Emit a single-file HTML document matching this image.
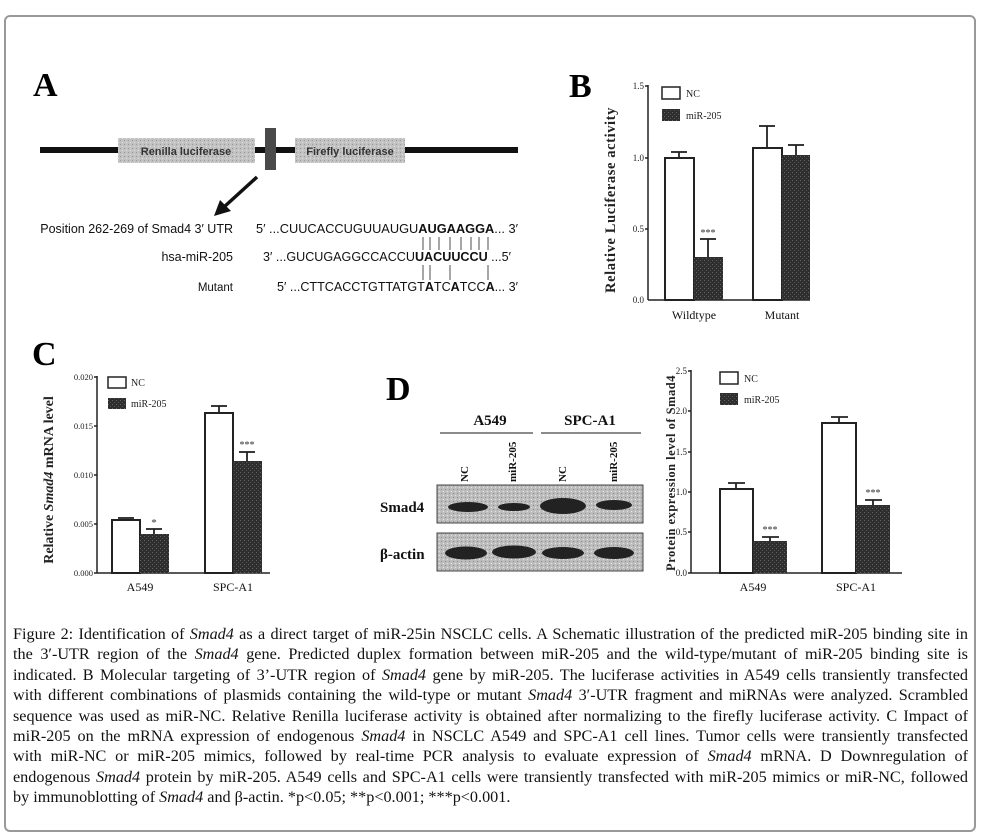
<!DOCTYPE html>
<html><head><meta charset="utf-8"><style>
html,body{margin:0;padding:0;background:#fff;width:982px;height:837px;overflow:hidden;position:relative}
.frame{position:absolute;left:4px;top:15px;width:972px;height:817px;border:2px solid #999;border-radius:6px;box-sizing:border-box}
svg{position:absolute;left:0;top:0}
.cap{position:absolute;left:13px;top:624px;width:955px;font-family:"Liberation Serif",serif;font-size:16.2px;color:#111}
.cap div{height:20.4px;line-height:20.4px;text-align:justify;text-align-last:justify;white-space:nowrap}
.cap div.last{text-align-last:left}
.cap i{font-style:italic}
</style></head><body>
<div class="frame"></div>
<svg width="982" height="837" viewBox="0 0 982 837" font-family="Liberation Serif, serif">
<defs>
<pattern id="dk" width="4" height="4" patternUnits="userSpaceOnUse"><rect width="4" height="4" fill="#2e2e2e"/><rect x="0" y="0" width="1" height="1" fill="#666"/><rect x="2" y="2" width="1" height="1" fill="#555"/></pattern>
<pattern id="lt" width="4" height="4" patternUnits="userSpaceOnUse"><rect width="4" height="4" fill="#c2c2c2"/><rect x="0" y="0" width="1" height="1" fill="#999"/><rect x="2" y="2" width="1" height="1" fill="#e0e0e0"/></pattern>
<pattern id="bl" width="4" height="4" patternUnits="userSpaceOnUse"><rect width="4" height="4" fill="#bdbdbd"/><rect x="1" y="1" width="1" height="1" fill="#8a8a8a"/><rect x="3" y="3" width="1" height="1" fill="#e4e4e4"/></pattern>
</defs>
<!-- Panel A -->
<text x="33" y="96" font-size="34" font-weight="bold">A</text>
<line x1="40" y1="150" x2="518" y2="150" stroke="#111" stroke-width="6"/>
<rect x="118" y="138" width="137" height="25" fill="url(#lt)"/>
<rect x="295" y="138" width="110" height="25" fill="url(#lt)"/>
<rect x="265" y="128" width="11" height="42" fill="#4a4a4a"/>
<g font-family="Liberation Sans, sans-serif" font-size="11" font-weight="bold" fill="#333" text-anchor="middle">
<text x="186" y="155">Renilla luciferase</text><text x="350" y="155">Firefly luciferase</text></g>
<line x1="257" y1="177" x2="224" y2="207" stroke="#111" stroke-width="3.5"/>
<polygon points="214,216 220,200 231,211" fill="#111"/>
<g font-family="Liberation Sans, sans-serif" font-size="12.5" fill="#111">
<text x="233" y="233" text-anchor="end">Position 262-269 of Smad4 3′ UTR</text>
<text x="233" y="261" text-anchor="end">hsa-miR-205</text>
<text x="233" y="291" text-anchor="end" font-size="11.5">Mutant</text>
<text x="256" y="233" textLength="262" lengthAdjust="spacingAndGlyphs">5′ ...CUUCACCUGUUAUGU<tspan font-weight="bold">AUGAAGGA</tspan>... 3′</text>
<text x="263" y="261" textLength="248" lengthAdjust="spacingAndGlyphs">3′ ...GUCUGAGGCCACCU<tspan font-weight="bold">UACUUCCU</tspan> ...5′</text>
<text x="277" y="291" textLength="241" lengthAdjust="spacingAndGlyphs">5′ ...CTTCACCTGTTATGT<tspan font-weight="bold">A</tspan>TC<tspan font-weight="bold">A</tspan>TCC<tspan font-weight="bold">A</tspan>... 3′</text>
</g>
<g stroke="#222" stroke-width="0.8">
<line x1="423" y1="237" x2="423" y2="250"/><line x1="430" y1="237" x2="430" y2="250"/><line x1="439" y1="237" x2="439" y2="250"/><line x1="450" y1="237" x2="450" y2="250"/><line x1="461" y1="237" x2="461" y2="250"/><line x1="471" y1="237" x2="471" y2="250"/><line x1="479" y1="237" x2="479" y2="250"/><line x1="488" y1="237" x2="488" y2="250"/>
<line x1="423" y1="265" x2="423" y2="280"/><line x1="430" y1="265" x2="430" y2="280"/><line x1="450" y1="265" x2="450" y2="280"/><line x1="488" y1="265" x2="488" y2="280"/>
</g>
<!-- Panel B -->
<text x="569" y="97" font-size="34" font-weight="bold">B</text>
<g stroke="#222" stroke-width="1.5" fill="none">
<line x1="648" y1="85" x2="648" y2="300"/><line x1="648" y1="300" x2="810" y2="300"/>
<line x1="645" y1="86" x2="648" y2="86"/><line x1="645" y1="158" x2="648" y2="158"/><line x1="645" y1="229" x2="648" y2="229"/>
</g>
<g font-size="9" text-anchor="end" fill="#222"><text x="644" y="89">1.5</text><text x="644" y="161">1.0</text><text x="644" y="232">0.5</text><text x="644" y="303">0.0</text></g>
<rect x="665" y="158" width="29" height="142" fill="#fff" stroke="#222" stroke-width="2"/>
<rect x="694" y="257" width="29" height="43" fill="url(#dk)"/>
<rect x="753" y="148" width="29" height="152" fill="#fff" stroke="#222" stroke-width="2"/>
<rect x="782" y="155" width="28" height="145" fill="url(#dk)"/>
<g stroke="#222" stroke-width="1.8">
<line x1="679" y1="158" x2="679" y2="152"/><line x1="671" y1="152" x2="687" y2="152"/>
<line x1="708" y1="257" x2="708" y2="239"/><line x1="700" y1="239" x2="716" y2="239"/>
<line x1="767" y1="148" x2="767" y2="126"/><line x1="759" y1="126" x2="775" y2="126"/>
<line x1="796" y1="155" x2="796" y2="145"/><line x1="788" y1="145" x2="804" y2="145"/>
</g>
<text x="708" y="236" font-size="10" text-anchor="middle" fill="#333">***</text>
<rect x="662" y="87" width="18" height="12" fill="#fff" stroke="#222" stroke-width="1.5"/>
<rect x="662" y="109" width="18" height="12" fill="url(#dk)"/>
<g font-size="10" fill="#222"><text x="686" y="97">NC</text><text x="686" y="119">miR-205</text></g>
<g font-size="12" text-anchor="middle" fill="#111"><text x="694" y="319">Wildtype</text><text x="782" y="319">Mutant</text></g>
<text transform="translate(615,200) rotate(-90)" font-size="14.5" font-weight="bold" text-anchor="middle" fill="#222" letter-spacing="0.6">Relative  Luciferase activity</text>
<!-- Panel C -->
<text x="32" y="365" font-size="34" font-weight="bold">C</text>
<g stroke="#222" stroke-width="1.5">
<line x1="97" y1="376" x2="97" y2="573"/><line x1="97" y1="573" x2="270" y2="573"/>
<line x1="94" y1="377" x2="97" y2="377"/><line x1="94" y1="426" x2="97" y2="426"/><line x1="94" y1="475" x2="97" y2="475"/><line x1="94" y1="524" x2="97" y2="524"/><line x1="94" y1="573" x2="97" y2="573"/>
</g>
<g font-size="8.5" text-anchor="end" fill="#222"><text x="93" y="380">0.020</text><text x="93" y="429">0.015</text><text x="93" y="478">0.010</text><text x="93" y="527">0.005</text><text x="93" y="576">0.000</text></g>
<rect x="112" y="520" width="28" height="53" fill="#fff" stroke="#222" stroke-width="2"/>
<rect x="140" y="534" width="29" height="39" fill="url(#dk)"/>
<rect x="205" y="413" width="28" height="160" fill="#fff" stroke="#222" stroke-width="2"/>
<rect x="233" y="461" width="29" height="112" fill="url(#dk)"/>
<g stroke="#222" stroke-width="1.8">
<line x1="118" y1="518" x2="134" y2="518"/>
<line x1="154" y1="534" x2="154" y2="529"/><line x1="146" y1="529" x2="162" y2="529"/>
<line x1="219" y1="413" x2="219" y2="406"/><line x1="211" y1="406" x2="227" y2="406"/>
<line x1="247" y1="461" x2="247" y2="452"/><line x1="239" y1="452" x2="255" y2="452"/>
</g>
<text x="154" y="526" font-size="11" text-anchor="middle" fill="#333">*</text>
<text x="247" y="448" font-size="10" text-anchor="middle" fill="#333">***</text>
<rect x="108" y="377" width="18" height="11" fill="#fff" stroke="#222" stroke-width="1.5"/>
<rect x="108" y="398" width="18" height="11" fill="url(#dk)"/>
<g font-size="10" fill="#222"><text x="131" y="386">NC</text><text x="131" y="407">miR-205</text></g>
<g font-size="12" text-anchor="middle" fill="#111"><text x="140" y="591">A549</text><text x="233" y="591">SPC-A1</text></g>
<text transform="translate(53,480) rotate(-90)" font-size="14" font-weight="bold" text-anchor="middle" fill="#222">Relative <tspan font-style="italic">Smad4</tspan> mRNA level</text>
<!-- Panel D -->
<text x="386" y="400" font-size="34" font-weight="bold">D</text>
<g font-size="15" font-weight="bold" text-anchor="middle" fill="#111"><text x="490" y="425">A549</text><text x="590" y="425">SPC-A1</text></g>
<line x1="440" y1="433" x2="533" y2="433" stroke="#666" stroke-width="1.5"/>
<line x1="541" y1="433" x2="641" y2="433" stroke="#666" stroke-width="1.5"/>
<g font-size="11" font-weight="bold" fill="#111">
<text transform="translate(468,482) rotate(-90)">NC</text>
<text transform="translate(516,482) rotate(-90)">miR-205</text>
<text transform="translate(566,482) rotate(-90)">NC</text>
<text transform="translate(617,482) rotate(-90)">miR-205</text>
</g>
<rect x="437" y="485" width="206" height="38" fill="url(#bl)" stroke="#444" stroke-width="1"/>
<rect x="437" y="533" width="206" height="38" fill="url(#bl)" stroke="#444" stroke-width="1"/>
<g fill="#222">
<ellipse cx="468" cy="507" rx="20" ry="5"/><ellipse cx="514" cy="507" rx="16" ry="4"/><ellipse cx="563" cy="506" rx="23" ry="8"/><ellipse cx="614" cy="505" rx="18" ry="5"/>
<ellipse cx="466" cy="553" rx="21" ry="6.5"/><ellipse cx="514" cy="552" rx="22" ry="6.5"/><ellipse cx="563" cy="553" rx="21" ry="6"/><ellipse cx="614" cy="553" rx="20" ry="6"/>
</g>
<g font-size="15" font-weight="bold" fill="#111"><text x="380" y="512">Smad4</text><text x="380" y="559">β-actin</text></g>
<g stroke="#222" stroke-width="1.5">
<line x1="691" y1="370" x2="691" y2="573"/><line x1="691" y1="573" x2="902" y2="573"/>
<line x1="688" y1="371" x2="691" y2="371"/><line x1="688" y1="411" x2="691" y2="411"/><line x1="688" y1="452" x2="691" y2="452"/><line x1="688" y1="492" x2="691" y2="492"/><line x1="688" y1="532" x2="691" y2="532"/><line x1="688" y1="573" x2="691" y2="573"/>
</g>
<g font-size="9" text-anchor="end" fill="#222"><text x="687" y="374">2.5</text><text x="687" y="414">2.0</text><text x="687" y="455">1.5</text><text x="687" y="495">1.0</text><text x="687" y="535">0.5</text><text x="687" y="576">0.0</text></g>
<rect x="720" y="489" width="33" height="84" fill="#fff" stroke="#222" stroke-width="2"/>
<rect x="753" y="541" width="34" height="32" fill="url(#dk)"/>
<rect x="822" y="423" width="34" height="150" fill="#fff" stroke="#222" stroke-width="2"/>
<rect x="856" y="505" width="34" height="68" fill="url(#dk)"/>
<g stroke="#222" stroke-width="1.8">
<line x1="736" y1="489" x2="736" y2="483"/><line x1="728" y1="483" x2="745" y2="483"/>
<line x1="770" y1="541" x2="770" y2="537"/><line x1="762" y1="537" x2="779" y2="537"/>
<line x1="839" y1="423" x2="839" y2="417"/><line x1="831" y1="417" x2="848" y2="417"/>
<line x1="873" y1="505" x2="873" y2="500"/><line x1="865" y1="500" x2="882" y2="500"/>
</g>
<g font-size="10" text-anchor="middle" fill="#333"><text x="770" y="533">***</text><text x="873" y="496">***</text></g>
<rect x="720" y="372" width="18" height="12" fill="#fff" stroke="#222" stroke-width="1.5"/>
<rect x="720" y="393" width="18" height="12" fill="url(#dk)"/>
<g font-size="10" fill="#222"><text x="744" y="382">NC</text><text x="744" y="403">miR-205</text></g>
<g font-size="12" text-anchor="middle" fill="#111"><text x="753" y="591">A549</text><text x="856" y="591">SPC-A1</text></g>
<text transform="translate(675,473) rotate(-90)" font-size="12.5" font-weight="bold" text-anchor="middle" fill="#222" letter-spacing="0.5">Protein expression level of Smad4</text>
</svg>
<div class="cap">
<div>Figure 2: Identification of <i>Smad4</i> as a direct target of miR-25in NSCLC cells. A Schematic illustration of the predicted miR-205 binding site in</div>
<div>the 3′-UTR region of the <i>Smad4</i> gene. Predicted duplex formation between miR-205 and the wild-type/mutant of miR-205 binding site is</div>
<div>indicated. B Molecular targeting of 3’-UTR region of <i>Smad4</i> gene by miR-205. The luciferase activities in A549 cells transiently transfected</div>
<div>with different combinations of plasmids containing the wild-type or mutant <i>Smad4</i> 3′-UTR fragment and miRNAs were analyzed. Scrambled</div>
<div>sequence was used as miR-NC. Relative Renilla luciferase activity is obtained after normalizing to the firefly luciferase activity. C Impact of</div>
<div>miR-205 on the mRNA expression of endogenous <i>Smad4</i> in NSCLC A549 and SPC-A1 cell lines. Tumor cells were transiently transfected</div>
<div>with miR-NC or miR-205 mimics, followed by real-time PCR analysis to evaluate expression of <i>Smad4</i> mRNA. D Downregulation of</div>
<div>endogenous <i>Smad4</i> protein by miR-205. A549 cells and SPC-A1 cells were transiently transfected with miR-205 mimics or miR-NC, followed</div>
<div class="last">by immunoblotting of <i>Smad4</i> and β-actin. *p&lt;0.05; **p&lt;0.001; ***p&lt;0.001.</div>
</div>
</body></html>
